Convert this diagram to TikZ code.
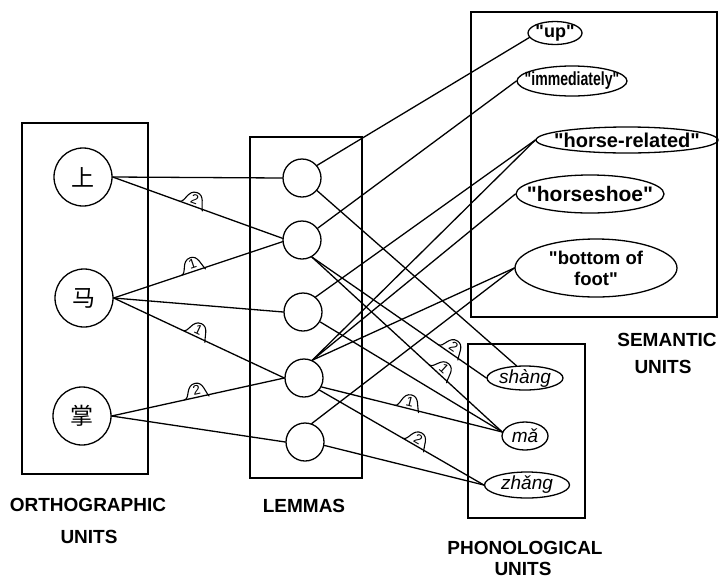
\documentclass[tikz,border=0pt]{standalone}
\usepackage{fontspec}
\setmainfont{Liberation Sans}[Ligatures=TeXOff]
\newfontfamily\cjk{Noto Sans CJK SC}
\usetikzlibrary{shapes.geometric,decorations.markings}
\tikzset{
 conn/.style={line width=1.3pt, line cap=round},
 box/.style={draw, line width=1.3pt},
 ocirc/.style={draw, circle, line width=1.3pt, minimum size=58pt, inner sep=0pt, font=\cjk\fontsize{23}{23}\selectfont},
 lcirc/.style={draw, circle, line width=1.3pt, minimum size=38pt, inner sep=0pt},
 sell/.style={draw, ellipse, line width=1.3pt, inner sep=0pt},
 stext/.style={font=\bfseries\fontsize{20}{22}\selectfont, align=center, inner sep=0pt},
 ptext/.style={font=\itshape\fontsize{19}{21}\selectfont, inner sep=0pt},
 titletext/.style={font=\bfseries\fontsize{19}{23}\selectfont, inner sep=0pt},
 numtag/.style 2 args={postaction={decorate}, decoration={markings, mark=at position #1 with {
   \draw[line width=1.1pt] (-14pt,0pt) .. controls (-8pt,0pt) and (-10pt,14pt) .. (0pt,14pt) .. controls (8pt,14pt) and (8pt,4pt) .. (11pt,-1.5pt);
   \node[transform shape, font=\fontsize{13.5}{13.5}\selectfont, inner sep=0pt] at (0pt,7pt) {#2};}}},
}
\begin{document}
\begin{tikzpicture}[x=1pt,y=-1pt]
\useasboundingbox (0,0) rectangle (719,579);
% boxes
\draw[box] (22,123) rectangle (148,474);
\draw[box] (250,137) rectangle (362,478);
\draw[box] (471,12) rectangle (717,317);
\draw[box] (468,344) rectangle (585,518);
% orthographic units
\node[ocirc] (oShang) at (83,177) {上};
\node[ocirc] (oMa) at (84,298) {马};
\node[ocirc] (oZhang) at (82,416) {掌};
% lemmas
\node[lcirc] (L1) at (302,178) {};
\node[lcirc] (L2) at (302,240) {};
\node[lcirc] (L3) at (303,312) {};
\node[lcirc] (L4) at (304,378) {};
\node[lcirc] (L5) at (305,442) {};
% semantic units
\node[sell, minimum width=54pt, minimum height=23pt] (sUp) at (555,33) {};
\node[stext, font=\bfseries\fontsize{18}{20}\selectfont] (tUp) at (sUp) {"up"};
\node[sell, minimum width=110pt, minimum height=30pt] (sImm) at (572,81) {};
\node[stext, font=\bfseries\fontsize{19}{20}\selectfont] (tImm) at (sImm) {\scalebox{0.74}[1]{"immediately"}};
\node[sell, minimum width=182pt, minimum height=26pt] (sHR) at (627,140) {};
\node[stext] (tHR) at (sHR) {"horse-related"};
\node[sell, minimum width=148pt, minimum height=38pt] (sHS) at (590,194) {};
\node[stext, font=\bfseries\fontsize{21}{22}\selectfont] (tHS) at (sHS) {"horseshoe"};
\node[sell, minimum width=162pt, minimum height=58pt] (sBF) at (596,268) {};
\node[stext, font=\bfseries\fontsize{18.5}{21}\selectfont] (tBF) at (sBF) {"bottom of\\foot"};
% phonological units
\node[sell, minimum width=76pt, minimum height=24pt] (pShang) at (525,378) {};
\node[ptext] (tShang) at (pShang) {shàng};
\node[sell, minimum width=46pt, minimum height=28pt] (pMa) at (525,436) {};
\node[ptext] (tMa) at (pMa) {mǎ};
\node[sell, minimum width=85pt, minimum height=26pt] (pZhang) at (527,485) {};
\node[ptext] (tZhang) at (pZhang) {zhǎng};
% titles
\node[titletext] (ttO1) at (88,505) {ORTHOGRAPHIC};
\node[titletext] (ttO2) at (89,537) {UNITS};
\node[titletext] (ttL) at (304,506) {LEMMAS};
\node[titletext] (ttS1) at (667,340) {SEMANTIC};
\node[titletext] (ttS2) at (663,367) {UNITS};
\node[titletext] (ttP1) at (525,548) {PHONOLOGICAL};
\node[titletext] (ttP2) at (523,569) {UNITS};
% orthographic -> lemma
\draw[conn] (oShang.east) -- (L1.west);
\draw[conn, numtag={0.47}{2}] (oShang.east) -- (L2.175);
\draw[conn, numtag={0.48}{1}] (oMa.east) -- (L2.185);
\draw[conn] (oMa.east) -- (L3.west);
\draw[conn, numtag={0.48}{1}] (oMa.east) -- (L4.west);
\draw[conn, numtag={0.5}{2}] (oZhang.east) -- (L4.west);
\draw[conn] (oZhang.east) -- (L5.west);
% lemma -> semantic
\draw[conn] (L1.40) -- (sUp.190);
\draw[conn] (L2.37) -- (sImm.west);
\draw[conn] (L3.50) -- (sHR.west);
\draw[conn] (L4.65) -- (sHR.west);
\draw[conn] (L4.65) -- (sHS.west);
\draw[conn] (L4.65) -- (sBF.west);
\draw[conn] (L5.70) -- (sBF.west);
% lemma -> phonological
\draw[conn] (L1.-40) -- (pShang.125);
\draw[conn, numtag={0.79}{2}] (L2.-60) -- (pShang.west);
\draw[conn, numtag={0.67}{1}] (L2.-60) -- (pMa.170);
\draw[conn] (L3.-30) -- (pMa.170);
\draw[conn, numtag={0.48}{1}] (L4.-27) -- (pMa.170);
\draw[conn, numtag={0.58}{2}] (L4.-38) -- (pZhang.west);
\draw[conn] (L5.-10) -- (pZhang.west);
\end{tikzpicture}
\end{document}
